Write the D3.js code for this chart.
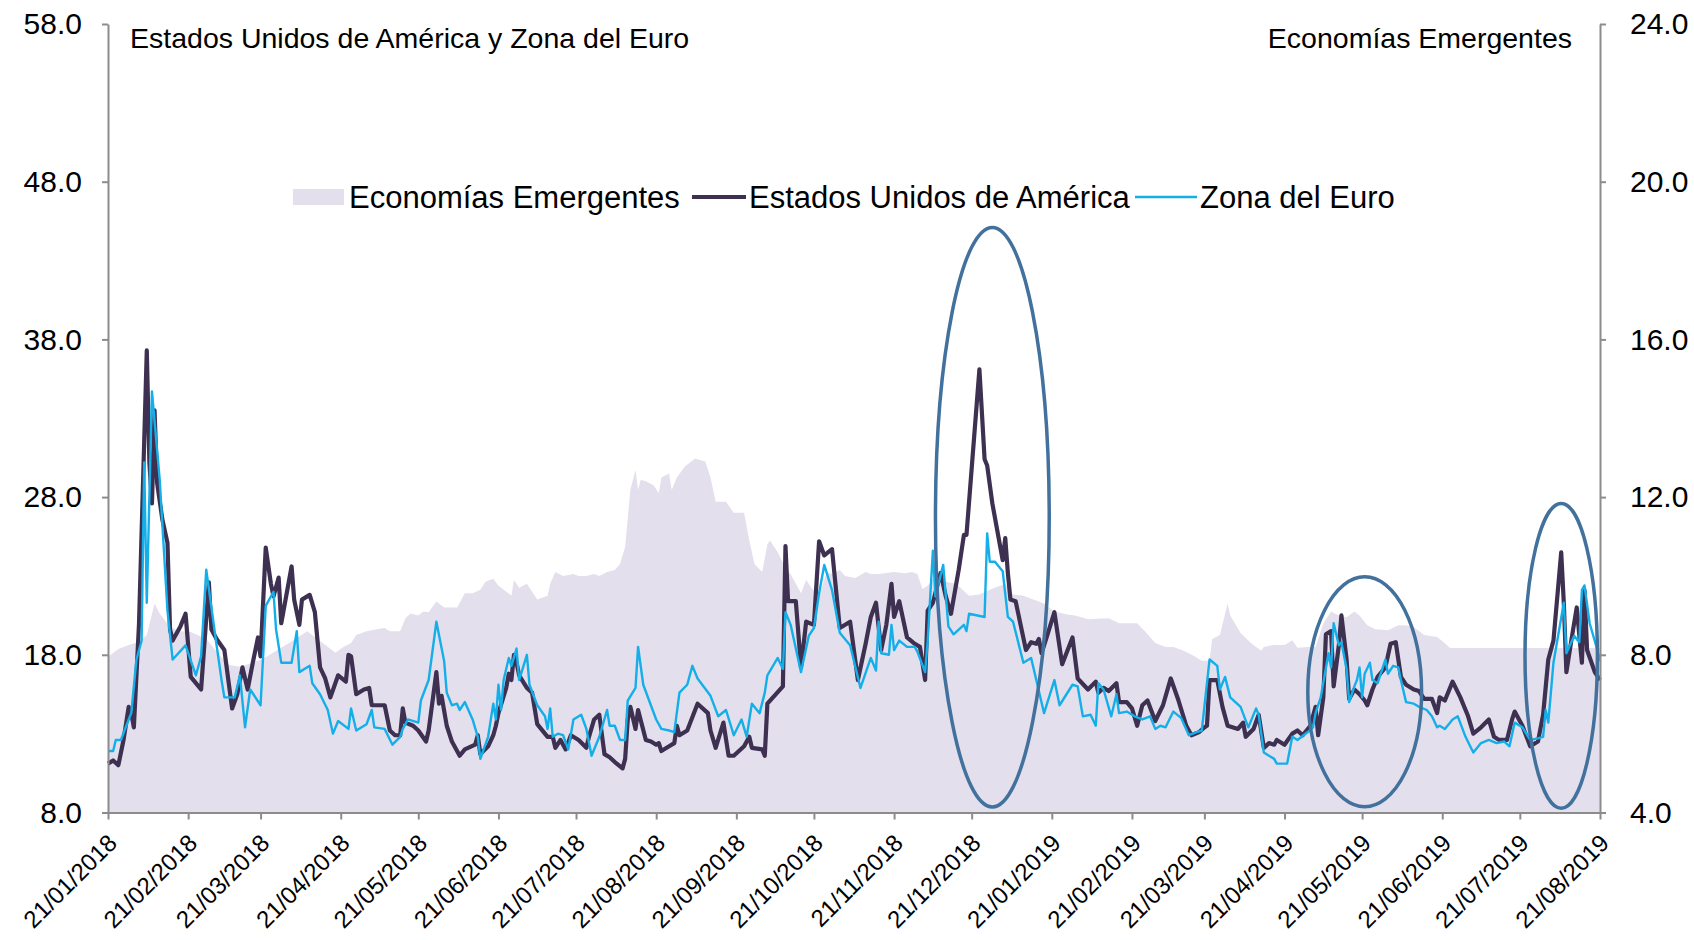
<!DOCTYPE html>
<html>
<head>
<meta charset="utf-8">
<script src="https://cdn.jsdelivr.net/npm/d3@7"></script>
<style>
  html, body { margin: 0; padding: 0; background: #fff; }
  svg { display: block; font-family: "Liberation Sans", Arial, sans-serif; }
</style>
</head>
<body>
<div id="chart"></div>
<script>
/* ── Data ────────────────────────────────────────────────────────────── */
// dates on the x axis (the series are given as [days since START_DATE, value])
const START_DATE  = '21/01/2018';
const DATE_TICKS  = ['21/01/2018', '21/02/2018', '21/03/2018', '21/04/2018', '21/05/2018',
                     '21/06/2018', '21/07/2018', '21/08/2018', '21/09/2018', '21/10/2018',
                     '21/11/2018', '21/12/2018', '21/01/2019', '21/02/2019', '21/03/2019',
                     '21/04/2019', '21/05/2019', '21/06/2019', '21/07/2019', '21/08/2019'];
const LEFT_TICKS  = [8, 18, 28, 38, 48, 58];
const RIGHT_TICKS = [4, 8, 12, 16, 20, 24];

const SERIES_NAMES = ['Economías Emergentes', 'Estados Unidos de América', 'Zona del Euro'];
const LEFT_TITLE   = 'Estados Unidos de América y Zona del Euro';
const RIGHT_TITLE  = 'Economías Emergentes';

// Economías Emergentes (right axis)
const EMERGING = [
  [0,7.95],[4,8.15],[8,8.25],[12,8.33],[15,8.5],[18,9.3],[20,9.05],[24,8.7],[28,8.6],[32,8.58],
  [38,8.4],[43,8.0],[47,7.74],[51,7.7],[56,7.8],[60,7.9],[65,8.1],[70,8.3],[77,8.6],[80,8.45],
  [83,8.3],[88,8.05],[91,8.2],[94,8.3],[96,8.5],[100,8.6],[104,8.65],[107,8.68],[109,8.6],[113,8.6],
  [115,8.93],[117,9.05],[120,9.0],[122,9.1],[124,9.08],[127,9.35],[130,9.2],[135,9.2],[138,9.56],[141,9.56],
  [144,9.65],[146,9.85],[149,9.93],[151,9.75],[156,9.5],[157,9.9],[159,9.7],[162,9.8],[166,9.4],[170,9.5],
  [171,9.8],[173,10.1],[176,10.0],[180,10.05],[182,10.0],[185,10.0],[188,10.05],[190,10.0],[193,10.1],[196,10.15],
  [198,10.3],[200,10.74],[202,12.18],[204,12.69],[205,12.18],[206,12.44],[208,12.4],[211,12.3],[213,12.1],[214,12.5],
  [217,12.6],[218,12.18],[220,12.5],[223,12.77],[227,12.98],[231,12.9],[233,12.5],[235,11.88],[239,11.88],[242,11.6],
  [246,11.6],[248,10.9],[250,10.3],[253,10.1],[255,10.8],[256,10.9],[259,10.6],[262,10.2],[264,10.05],[268,9.56],
  [270,9.9],[272,9.7],[275,9.5],[278,10.1],[280,10.05],[283,10.15],[285,10.0],[289,9.95],[293,10.1],[295,10.05],
  [298,10.05],[304,10.1],[308,10.07],[311,10.1],[313,10.05],[315,9.67],[317,9.75],[320,10.0],[324,9.85],[328,9.8],
  [333,9.5],[337,9.53],[341,9.65],[347,9.8],[350,9.53],[354,9.5],[362,9.3],[366,9.1],[371,9.02],[374,9.0],
  [379,8.9],[387,8.93],[391,8.8],[398,8.8],[401,8.6],[405,8.3],[409,8.2],[412,8.2],[416,8.1],[420,7.97],
  [423,7.85],[426,7.85],[427,8.4],[430,8.5],[433,9.3],[434,9.0],[438,8.55],[442,8.3],[444,8.2],[446,8.1],
  [447,8.2],[451,8.25],[455,8.25],[458,8.37],[460,8.18],[464,8.2],[467,8.2],[470,8.8],[473,9.1],[476,9.0],
  [479,8.95],[482,9.1],[484,9.0],[487,8.75],[490,8.65],[495,8.62],[499,8.75],[502,8.75],[505,8.7],[509,8.5],
  [514,8.45],[516,8.35],[519,8.17],[577,8.17]
];

// Estados Unidos de América (left axis)
const USA = [
  [0,11.1],[2,11.3],[4,11.0],[6,12.6],[8,14.7],[9,14.3],[10,13.4],[12,20.0],[15,37.3],[16,30.2],
  [17,27.6],[18,33.5],[19,28.9],[21,26.6],[23,25.1],[24,19.6],[25,18.9],[28,19.8],[30,20.6],[32,16.6],
  [34,16.2],[36,15.8],[39,22.6],[40,19.6],[42,19.0],[45,18.3],[48,14.6],[50,15.5],[52,17.2],[54,15.8],
  [56,17.5],[58,19.1],[59,17.9],[61,24.8],[63,22.5],[64,21.7],[66,22.9],[67,20.0],[69,21.8],[71,23.6],
  [72,21.5],[74,19.9],[75,21.5],[78,21.8],[80,20.7],[82,17.2],[84,16.5],[86,15.3],[89,16.7],[92,16.3],
  [93,18.0],[94,17.9],[96,15.5],[99,15.8],[101,15.9],[102,14.8],[107,14.8],[109,13.2],[111,12.9],[113,12.9],
  [114,14.6],[115,13.7],[118,13.5],[120,13.2],[123,12.5],[124,13.2],[127,16.9],[128,14.9],[129,15.4],[131,13.5],
  [133,12.5],[136,11.6],[138,12.0],[142,12.3],[143,12.9],[144,11.7],[147,12.2],[149,12.9],[150,13.5],[151,14.3],
  [154,15.9],[155,16.8],[156,16.4],[157,18.0],[158,17.5],[159,16.7],[162,15.9],[164,15.6],[166,13.6],[170,12.8],
  [172,12.8],[173,12.1],[175,12.6],[177,12.0],[179,12.9],[182,12.6],[185,12.1],[186,12.8],[188,13.9],[190,14.2],
  [192,11.7],[194,11.5],[196,11.2],[199,10.8],[200,11.4],[201,13.9],[202,14.7],[204,13.3],[205,14.5],[208,12.6],
  [210,12.5],[212,12.3],[213,12.4],[214,11.9],[217,12.2],[219,12.4],[220,13.5],[221,12.9],[224,13.2],[228,14.9],
  [232,14.3],[233,13.2],[235,12.1],[238,13.7],[240,11.6],[242,11.6],[246,12.2],[248,12.8],[249,12.1],[253,12.0],
  [254,11.6],[255,14.9],[261,16.0],[262,24.9],[263,21.4],[266,21.4],[268,17.2],[270,20.1],[273,19.9],[275,25.2],
  [277,24.3],[280,24.7],[283,19.7],[287,20.1],[290,16.4],[293,18.7],[295,20.4],[297,21.3],[299,18.3],[301,19.9],
  [303,22.5],[304,20.4],[306,21.4],[309,19.1],[312,18.7],[314,18.5],[316,16.4],[317,20.8],[319,21.3],[322,23.2],
  [324,21.7],[326,20.6],[329,23.4],[331,25.6],[332,25.6],[337,36.1],[339,30.4],[340,30.0],[342,27.6],[346,24.0],
  [347,25.4],[348,23.2],[349,21.5],[351,21.4],[355,18.3],[357,18.8],[359,18.7],[360,19.0],[361,18.1],[363,19.1],
  [366,20.7],[369,17.4],[373,19.1],[375,16.5],[379,15.8],[382,16.3],[383,15.6],[385,15.9],[387,15.7],[390,16.2],
  [391,15.0],[394,15.0],[396,14.6],[398,13.5],[400,14.8],[402,15.1],[405,13.8],[408,14.8],[411,16.5],[414,15.1],
  [417,13.5],[419,12.9],[422,13.1],[424,13.4],[425,13.5],[426,16.4],[429,16.4],[431,14.7],[433,13.5],[437,13.3],
  [439,13.7],[440,12.8],[443,13.3],[445,14.2],[447,12.1],[449,12.4],[451,12.3],[452,12.6],[455,12.3],[458,13.0],
  [460,13.2],[462,12.9],[465,13.5],[467,14.7],[468,12.9],[470,15.3],[471,19.3],[473,19.5],[474,16.0],[476,18.6],
  [477,20.5],[479,17.7],[480,15.2],[482,15.8],[484,15.5],[486,15.1],[487,14.8],[489,15.8],[491,16.6],[494,17.2],
  [496,18.7],[498,18.8],[500,16.6],[502,16.1],[505,15.8],[507,15.7],[509,15.2],[512,15.2],[514,14.3],[515,15.3],
  [517,15.1],[520,16.3],[523,15.3],[526,14.1],[528,13.0],[531,13.4],[534,13.9],[536,12.8],[538,12.6],[541,12.6],
  [543,13.9],[544,14.4],[547,13.5],[550,12.2],[553,12.5],[555,14.2],[557,17.7],[559,18.9],[562,24.5],[563,21.3],
  [564,16.9],[566,19.0],[568,21.0],[570,17.5],[571,22.1],[572,18.3],[575,16.9],[577,16.4]
];

// Zona del Euro (left axis)
const EURO = [
  [0,11.9],[2,11.9],[3,12.6],[5,12.6],[8,13.9],[9,14.3],[11,17.7],[13,18.9],[14,30.2],[15,21.3],
  [17,34.7],[20,29.1],[23,20.8],[25,17.7],[30,18.6],[34,16.7],[36,17.9],[38,23.4],[42,18.6],[44,16.3],
  [45,15.3],[49,15.3],[51,16.7],[53,13.4],[55,15.8],[59,14.8],[61,21.1],[64,22.0],[65,19.6],[67,17.5],
  [71,17.5],[73,19.5],[74,16.9],[78,17.3],[79,16.2],[82,15.5],[85,14.5],[87,13.0],[89,13.8],[93,13.3],
  [94,14.6],[96,13.2],[100,13.6],[102,14.5],[103,13.4],[107,13.3],[110,12.3],[113,12.8],[114,13.3],[116,13.9],
  [120,13.7],[121,15.1],[124,16.4],[127,20.1],[130,17.6],[131,15.6],[133,14.8],[135,14.9],[136,14.5],[138,15.0],
  [141,13.9],[143,12.8],[144,11.4],[147,12.8],[149,14.9],[150,13.9],[151,16.1],[152,14.5],[153,16.4],[155,17.8],
  [156,17.3],[158,18.4],[159,16.4],[162,18.0],[163,16.1],[166,14.8],[169,14.1],[170,13.3],[171,14.6],[172,12.8],
  [174,13.0],[176,12.9],[178,12.0],[180,13.9],[183,14.2],[185,13.3],[187,11.6],[190,12.8],[193,14.5],[194,13.5],
  [196,13.5],[198,12.6],[200,12.6],[201,15.1],[204,15.9],[205,18.5],[207,16.1],[212,13.9],[214,13.3],[217,13.2],
  [219,13.1],[221,15.6],[224,16.1],[226,17.3],[228,16.5],[233,15.4],[236,14.1],[239,14.5],[242,12.9],[245,13.9],
  [247,12.8],[249,14.9],[252,14.3],[254,15.6],[255,16.7],[259,17.8],[261,17.1],[262,20.7],[264,19.9],[268,16.9],
  [271,19.2],[273,19.7],[275,21.9],[277,23.7],[280,22.1],[283,19.4],[287,18.6],[291,15.9],[295,17.8],[297,17.0],
  [298,20.1],[299,18.1],[302,18.0],[303,19.9],[304,18.3],[306,18.9],[309,18.5],[312,18.5],[313,18.2],[316,16.9],
  [317,18.9],[319,24.6],[320,21.7],[323,23.7],[325,19.8],[327,19.3],[331,19.9],[332,19.5],[333,20.6],[339,20.4],
  [340,25.7],[341,23.9],[343,23.9],[346,23.3],[348,20.4],[350,20.1],[354,17.5],[357,17.8],[359,16.4],[362,14.3],
  [366,16.4],[368,14.8],[373,16.1],[375,16.0],[377,14.1],[380,14.2],[382,13.5],[383,16.2],[385,15.8],[388,14.1],
  [390,15.5],[391,14.3],[394,14.4],[397,14.1],[400,13.9],[403,14.1],[405,13.3],[407,13.5],[409,13.4],[412,14.4],
  [415,14.0],[418,12.9],[421,13.1],[423,13.2],[426,17.7],[429,17.3],[430,15.8],[432,16.6],[434,15.3],[438,14.7],
  [441,13.4],[444,14.6],[445,14.2],[447,11.8],[451,11.4],[452,11.1],[456,11.1],[458,12.8],[460,12.6],[464,13.1],
  [466,13.4],[467,14.3],[469,15.3],[472,18.1],[473,17.2],[474,20.0],[476,18.6],[477,18.8],[479,17.1],[480,15.0],
  [482,16.0],[483,16.4],[484,17.2],[485,15.3],[486,16.8],[488,17.5],[489,16.4],[491,16.2],[494,17.7],[495,16.8],
  [497,17.3],[499,17.2],[500,16.4],[502,15.0],[505,14.9],[507,14.7],[510,14.5],[512,14.1],[514,13.4],[515,13.5],
  [517,13.3],[520,13.9],[522,14.1],[525,12.8],[528,11.8],[531,12.4],[534,12.6],[537,12.4],[540,12.5],[542,12.2],
  [544,13.7],[547,13.4],[550,12.6],[553,12.7],[555,12.8],[556,14.5],[557,13.7],[559,17.5],[561,19.4],[563,21.3],
  [564,18.1],[567,19.2],[569,18.8],[570,22.1],[571,22.4],[573,20.0],[576,18.3],[577,17.6]
];

// highlighted episodes: [first day, last day, low value, high value] on the left axis
const HIGHLIGHTS = [
  [320.4, 364.8, 8.35, 45.1],
  [464.8, 508.4, 8.37, 22.95],
  [548.6, 576.7, 8.27, 27.6]
];

/* ── Layout ──────────────────────────────────────────────────────────── */
const W = 1694, H = 940;
const ML = 108, MR = 94, MT = 24, MB = 127.5;

const C_AREA  = '#E4DFEC';
const C_USA   = '#3D3051';
const C_EURO  = '#14AFE9';
const C_RING  = '#41719C';
const C_AXIS  = '#8C8C8C';

const parseDay = d3.timeParse('%d/%m/%Y');
const start = parseDay(START_DATE);
const toDate = d => d3.timeDay.offset(start, Math.floor(d));
const tickDates = DATE_TICKS.map(parseDay);

const svg = d3.select('#chart').append('svg')
  .attr('width', W).attr('height', H)
  .attr('viewBox', `0 0 ${W} ${H}`);

const x = d3.scaleTime()
  .domain([start, tickDates[tickDates.length - 1]])
  .range([ML, W - MR]);
const yL = d3.scaleLinear().domain([8, 58]).range([H - MB, MT]);
const yR = d3.scaleLinear().domain([4, 24]).range([H - MB, MT]);

/* ── Area (Economías Emergentes) ─────────────────────────────────────── */
svg.append('path')
  .datum(EMERGING)
  .attr('fill', C_AREA)
  .attr('d', d3.area()
    .x(d => x(toDate(d[0])))
    .y0(yR(4))
    .y1(d => yR(d[1])));

/* ── Lines ───────────────────────────────────────────────────────────── */
const lineL = d3.line()
  .x(d => x(toDate(d[0])))
  .y(d => yL(d[1]));

svg.append('path')
  .datum(USA)
  .attr('fill', 'none')
  .attr('stroke', C_USA)
  .attr('stroke-width', 4.2)
  .attr('stroke-linejoin', 'round')
  .attr('d', lineL);

svg.append('path')
  .datum(EURO)
  .attr('fill', 'none')
  .attr('stroke', C_EURO)
  .attr('stroke-width', 2.4)
  .attr('stroke-linejoin', 'round')
  .attr('d', lineL);

/* ── Axes ────────────────────────────────────────────────────────────── */
const styleAxis = g => {
  g.selectAll('path, line').attr('stroke', C_AXIS).attr('stroke-width', 2);
  g.selectAll('text').attr('fill', '#000').attr('font-family', '"Liberation Sans", Arial, sans-serif');
};

svg.append('g')
  .attr('transform', `translate(${ML},0)`)
  .call(d3.axisLeft(yL).tickValues(LEFT_TICKS).tickFormat(d3.format('.1f'))
    .tickSize(6).tickSizeOuter(0).tickPadding(20))
  .call(styleAxis)
  .call(g => g.selectAll('text').attr('font-size', 30));

svg.append('g')
  .attr('transform', `translate(${W - MR},0)`)
  .call(d3.axisRight(yR).tickValues(RIGHT_TICKS).tickFormat(d3.format('.1f'))
    .tickSize(6).tickSizeOuter(0).tickPadding(24))
  .call(styleAxis)
  .call(g => g.selectAll('text').attr('font-size', 30));

svg.append('g')
  .attr('transform', `translate(0,${H - MB})`)
  .call(d3.axisBottom(x).tickValues(tickDates).tickFormat(d3.timeFormat('%d/%m/%Y'))
    .tickSize(7).tickSizeOuter(0))
  .call(styleAxis)
  .call(g => g.selectAll('text')
    .attr('font-size', 24)
    .attr('text-anchor', 'end')
    .attr('x', 0).attr('y', 0).attr('dy', '0.35em')
    .attr('transform', 'translate(4,26) rotate(-45)'));

/* ── Highlight ellipses ──────────────────────────────────────────────── */
svg.append('g').selectAll('ellipse')
  .data(HIGHLIGHTS)
  .join('ellipse')
  .attr('cx', d => (x(toDate(d[0])) + x(toDate(d[1]))) / 2)
  .attr('cy', d => (yL(d[2]) + yL(d[3])) / 2)
  .attr('rx', d => (x(toDate(d[1])) - x(toDate(d[0]))) / 2)
  .attr('ry', d => (yL(d[2]) - yL(d[3])) / 2)
  .attr('fill', 'none')
  .attr('stroke', C_RING)
  .attr('stroke-width', 3.5);

/* ── Titles ──────────────────────────────────────────────────────────── */
svg.append('text')
  .attr('x', 130).attr('y', 48)
  .attr('font-size', 28.5)
  .text(LEFT_TITLE);

svg.append('text')
  .attr('x', 1572).attr('y', 48)
  .attr('text-anchor', 'end')
  .attr('font-size', 28.5)
  .text(RIGHT_TITLE);

/* ── Legend ──────────────────────────────────────────────────────────── */
const legend = svg.append('g').attr('font-size', 31);
const LEG_Y = 197;

legend.append('rect')
  .attr('x', 293).attr('y', LEG_Y - 8).attr('width', 51).attr('height', 16)
  .attr('fill', C_AREA);
legend.append('text').attr('x', 349).attr('y', LEG_Y + 11).text(SERIES_NAMES[0]);

legend.append('line')
  .attr('x1', 692).attr('x2', 746).attr('y1', LEG_Y).attr('y2', LEG_Y)
  .attr('stroke', C_USA).attr('stroke-width', 4.2);
legend.append('text').attr('x', 749).attr('y', LEG_Y + 11).text(SERIES_NAMES[1]);

legend.append('line')
  .attr('x1', 1135).attr('x2', 1197).attr('y1', LEG_Y).attr('y2', LEG_Y)
  .attr('stroke', C_EURO).attr('stroke-width', 2.4);
legend.append('text').attr('x', 1200).attr('y', LEG_Y + 11).text(SERIES_NAMES[2]);
</script>
</body>
</html>
